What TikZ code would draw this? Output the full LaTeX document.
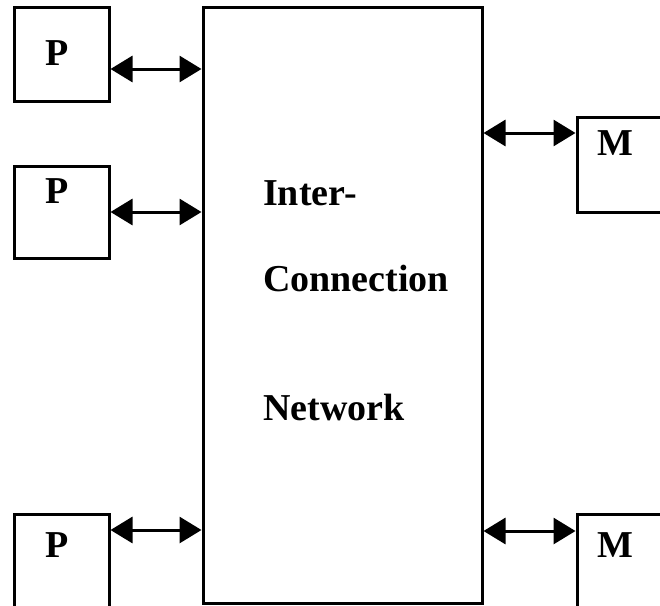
\documentclass[tikz,border=0pt]{standalone}
\usepackage{fontspec}
\setmainfont{Liberation Serif}
\usetikzlibrary{arrows.meta}
\tikzset{
  box/.style={draw, line width=3pt, rectangle, inner sep=0pt, minimum width=95pt},
  bigbox/.style={draw, line width=3pt, rectangle, inner sep=0pt},
  lab/.style={inner sep=0pt, anchor=base, font=\bfseries\fontsize{38}{40}\selectfont},
  txt/.style={inner sep=0pt, anchor=base west, font=\bfseries\fontsize{38}{40}\selectfont},
  biarrow/.style={line width=3pt, {Triangle[length=22pt,width=26pt]}-{Triangle[length=22pt,width=26pt]}}
}
\begin{document}
\begin{tikzpicture}[x=1pt,y=-1pt]
\useasboundingbox (0,0) rectangle (660,605);
\clip (0,0) rectangle (660,605);
% big interconnection box
\node[bigbox, minimum width=279pt, minimum height=596pt] (big) at (342.5,305) {};
% processor boxes
\node[box, minimum height=94pt] (p1) at (61.5,54) {};
\node[box, minimum height=92pt] (p2) at (61.5,212) {};
\node[box, minimum height=110pt] (p3) at (61.5,569) {};
% memory boxes
\node[box, minimum height=95pt] (m1) at (624.5,164.5) {};
\node[box, minimum height=110pt] (m2) at (624.5,569) {};
% labels
\node[lab] (p1t) at (57,65) {P};
\node[lab] (p2t) at (57,203) {P};
\node[lab] (p3t) at (57,557) {P};
\node[lab] (m1t) at (615,155) {M};
\node[lab] (m2t) at (615,557) {M};
\node[txt] (t1) at (263,205) {Inter-};
\node[txt] (t2) at (263,291) {Connection};
\node[txt] (t3) at (263,420) {Network};
% connector levels
\coordinate (a1) at (0,69);
\coordinate (a2) at (0,212);
\coordinate (a3) at (0,530);
\coordinate (b1) at (0,133);
\coordinate (b2) at (0,531);
\draw[biarrow] (p1.east |- a1) -- (big.west |- a1);
\draw[biarrow] (p2.east |- a2) -- (big.west |- a2);
\draw[biarrow] (p3.east |- a3) -- (big.west |- a3);
\draw[biarrow] (big.east |- b1) -- (m1.west |- b1);
\draw[biarrow] (big.east |- b2) -- (m2.west |- b2);
\end{tikzpicture}
\end{document}
